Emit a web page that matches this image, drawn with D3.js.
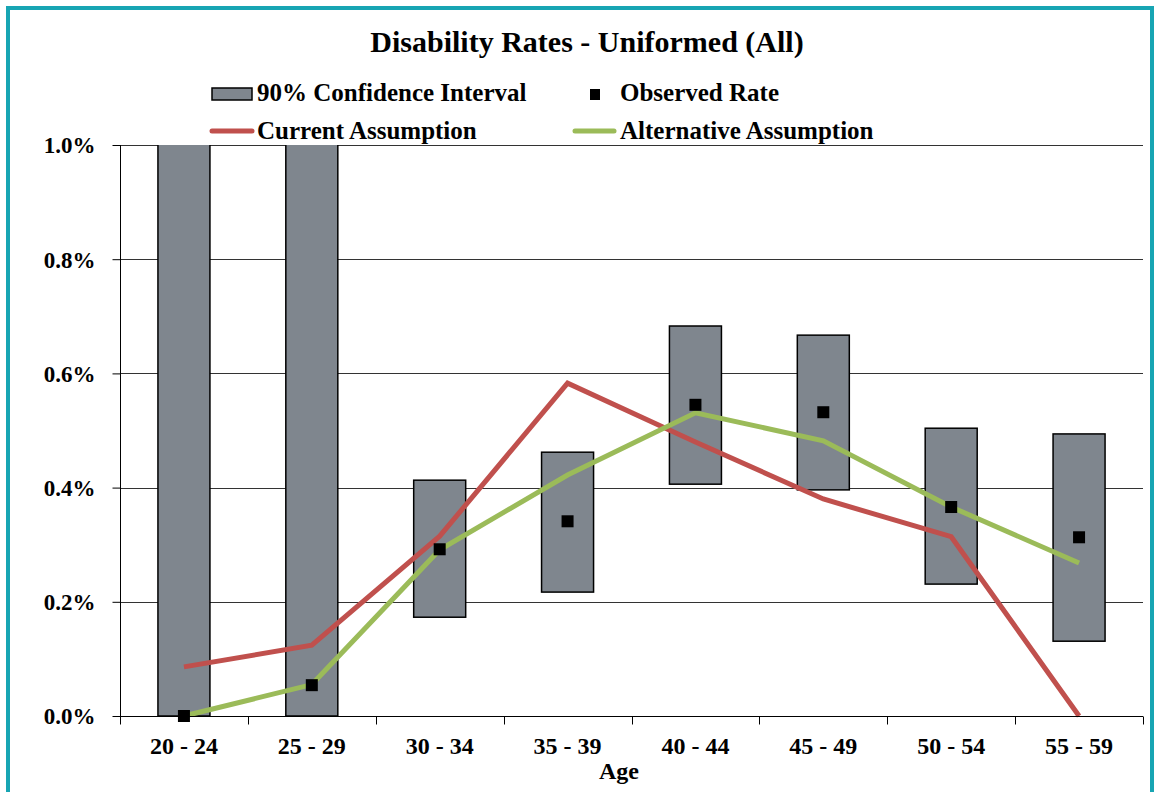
<!DOCTYPE html>
<html>
<head>
<meta charset="utf-8">
<script src="https://cdn.jsdelivr.net/npm/d3@7"></script>
<style>
  html, body { margin: 0; padding: 0; background: #fff; }
  svg { display: block; }
</style>
</head>
<body>
<svg id="chart" width="1156" height="792"></svg>
<script>
// Age bands and rates (in percent)
const ageGroups = ["20 - 24", "25 - 29", "30 - 34", "35 - 39", "40 - 44", "45 - 49", "50 - 54", "55 - 59"];
const ciLower   = [0.000, 0.000, 0.173, 0.217, 0.406, 0.396, 0.231, 0.131];
const ciUpper   = [1.300, 1.100, 0.413, 0.462, 0.683, 0.667, 0.504, 0.494];
const observed  = [0.000, 0.054, 0.292, 0.341, 0.545, 0.532, 0.366, 0.313];
const currentAssumption     = [0.086, 0.124, 0.315, 0.583, 0.480, 0.380, 0.314, 0.000];
const alternativeAssumption = [0.000, 0.055, 0.291, 0.422, 0.531, 0.482, 0.366, 0.268];
const yTicks = [0, 0.2, 0.4, 0.6, 0.8, 1.0];

const FONT = "'Liberation Serif', 'Times New Roman', serif";
const svg = d3.select("#chart");
const m = { left: 120, right: 1143, top: 145, bottom: 716 };

const styleText = sel => sel.style("font-family", FONT).style("font-weight", "bold").style("fill", "#000");

// Outer frame
svg.append("rect").attr("x", 8).attr("y", 8).attr("width", 1144).attr("height", 800)
  .attr("fill", "#fff").attr("stroke", "#17A5B3").attr("stroke-width", 4);

const x = d3.scaleBand().domain(ageGroups).range([m.left, m.right]).paddingInner(0).paddingOuter(0);
const y = d3.scaleLinear().domain([0, 1.0]).range([m.bottom, m.top]);
const cx = d => x(d) + x.bandwidth() / 2;

// Title
svg.append("text").attr("x", 587).attr("y", 52).attr("text-anchor", "middle")
  .call(styleText).style("font-size", "30px").text("Disability Rates - Uniformed (All)");

// Gridlines
svg.append("g").selectAll("line").data(yTicks.filter(t => t > 0)).join("line")
  .attr("x1", m.left).attr("x2", m.right)
  .attr("y1", d => Math.round(y(d)) + 0.5).attr("y2", d => Math.round(y(d)) + 0.5)
  .attr("stroke", "#333").attr("stroke-width", 1);

// Clip to plot area
svg.append("clipPath").attr("id", "plot")
  .append("rect").attr("x", m.left).attr("y", m.top).attr("width", m.right - m.left).attr("height", m.bottom - m.top + 4);

const plot = svg.append("g").attr("clip-path", "url(#plot)");

// Confidence interval boxes
const barW = 52;
plot.append("g").selectAll("rect").data(ageGroups).join("rect")
  .attr("x", d => cx(d) - barW / 2)
  .attr("width", barW)
  .attr("y", (d, i) => y(ciUpper[i]))
  .attr("height", (d, i) => y(ciLower[i]) - y(ciUpper[i]))
  .attr("fill", "#7F868E").attr("stroke", "#000").attr("stroke-width", 1.5);

// Y axis
const yAxis = d3.axisLeft(y).tickValues(yTicks).tickFormat(d => d.toFixed(1) + "%").tickSize(8).tickPadding(17);
const gy = svg.append("g").attr("transform", `translate(${m.left + 0.5},0)`).call(yAxis);
gy.select(".domain").attr("stroke", "#000").attr("d", `M0,${m.top}V${m.bottom}`);
gy.selectAll(".tick line").attr("stroke", "#000");
gy.selectAll(".tick text").call(styleText).style("font-size", "23px").attr("dy", "0.34em");

// X axis
const xAxis = d3.axisBottom(x).tickSize(0).tickPadding(20);
const gx = svg.append("g").attr("transform", `translate(0,${m.bottom + 0.5})`).call(xAxis);
gx.select(".domain").attr("stroke", "#000").attr("d", `M${m.left},0H${m.right}`);
gx.selectAll(".tick text").call(styleText).style("font-size", "24px").attr("dy", null).attr("y", 37);
const boundaries = ageGroups.map(d => x(d)).concat([m.right]);
gx.append("g").selectAll("line").data(boundaries).join("line")
  .attr("x1", d => Math.round(d) + 0.5).attr("x2", d => Math.round(d) + 0.5)
  .attr("y1", 0).attr("y2", 8).attr("stroke", "#000");

svg.append("text").attr("x", 619).attr("y", 779).attr("text-anchor", "middle")
  .call(styleText).style("font-size", "24px").text("Age");

// Assumption lines
const line = d3.line().x((d, i) => cx(ageGroups[i])).y(d => y(d));
plot.append("path").datum(currentAssumption).attr("d", line)
  .attr("fill", "none").attr("stroke", "#C0504D").attr("stroke-width", 5);
plot.append("path").datum(alternativeAssumption).attr("d", line)
  .attr("fill", "none").attr("stroke", "#9BBB59").attr("stroke-width", 5);

// Observed rate markers
svg.append("g").selectAll("rect").data(ageGroups).join("rect")
  .attr("x", d => cx(d) - 6).attr("y", (d, i) => y(observed[i]) - 6)
  .attr("width", 12).attr("height", 12).attr("fill", "#000");

// Legend
const lg = svg.append("g");
lg.append("rect").attr("x", 212).attr("y", 88).attr("width", 40).attr("height", 12)
  .attr("fill", "#7F868E").attr("stroke", "#000").attr("stroke-width", 1.5);
lg.append("text").attr("x", 257).attr("y", 101).call(styleText).style("font-size", "25px").text("90% Confidence Interval");
lg.append("rect").attr("x", 590).attr("y", 89).attr("width", 10).attr("height", 11).attr("fill", "#000");
lg.append("text").attr("x", 620).attr("y", 101).call(styleText).style("font-size", "25px").text("Observed Rate");
lg.append("line").attr("x1", 212).attr("x2", 252).attr("y1", 131).attr("y2", 131)
  .attr("stroke", "#C0504D").attr("stroke-width", 5).attr("stroke-linecap", "round");
lg.append("text").attr("x", 257).attr("y", 139).call(styleText).style("font-size", "25px").text("Current Assumption");
lg.append("line").attr("x1", 575).attr("x2", 614).attr("y1", 131).attr("y2", 131)
  .attr("stroke", "#9BBB59").attr("stroke-width", 5).attr("stroke-linecap", "round");
lg.append("text").attr("x", 620).attr("y", 139).call(styleText).style("font-size", "25px").text("Alternative Assumption");
</script>
</body>
</html>
